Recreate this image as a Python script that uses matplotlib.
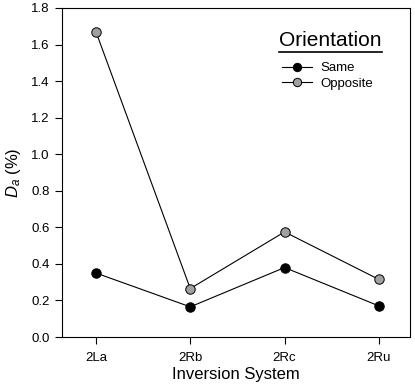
import matplotlib
matplotlib.use("Agg")
import matplotlib.pyplot as plt
from matplotlib.lines import Line2D

plt.rcParams['font.family'] = ['Liberation Sans', 'DejaVu Sans']
plt.rcParams['mathtext.fontset'] = 'custom'
plt.rcParams['mathtext.it'] = 'Liberation Sans:italic'
plt.rcParams['mathtext.rm'] = 'Liberation Sans'

categories = ["2La", "2Rb", "2Rc", "2Ru"]
same = [0.35, 0.165, 0.38, 0.17]
opposite = [1.67, 0.265, 0.575, 0.315]
yticks = [0.0, 0.2, 0.4, 0.6, 0.8, 1.0, 1.2, 1.4, 1.6, 1.8]

fig = plt.figure(figsize=(4.15, 3.88), dpi=100)
ax = fig.add_axes([62/415, 1-337/388, (410-62)/415, (337-8)/388])

x = list(range(len(categories)))
ax.plot(x, same, color='black', lw=0.8, marker='o', ms=6.8,
        mfc='black', mec='black', mew=0.7, label='Same', zorder=3)
ax.plot(x, opposite, color='black', lw=0.8, marker='o', ms=6.8,
        mfc='#a0a0a0', mec='black', mew=0.7, label='Opposite', zorder=3)

ax.set_xlim(-0.36, 3.33)
ax.set_ylim(0, 1.8)
ax.set_xticks(x)
ax.set_xticklabels(categories)
ax.set_yticks(yticks)
ax.set_yticklabels([f"{v:.1f}" for v in yticks])
ax.tick_params(direction='out', length=5, width=0.8, labelsize=9.5, pad=4)
ax.tick_params(axis='x', pad=6)
for s in ax.spines.values():
    s.set_linewidth(0.8)

ax.set_xlabel("Inversion System", fontsize=12, labelpad=2)
ax.set_ylabel(r"$D_a$ (%)", fontsize=12, labelpad=6)

h1 = Line2D([], [], color='black', lw=0.8, marker='o', ms=6, mfc='black', mec='black', mew=0.7)
h2 = Line2D([], [], color='black', lw=0.8, marker='o', ms=6, mfc='#a0a0a0', mec='black', mew=0.7)
leg = ax.legend([h1, h2], ["Same", "Opposite"], loc='upper left',
                bbox_to_anchor=(282/415, 1-62/388), bbox_transform=fig.transFigure,
                frameon=False, fontsize=9.5, handlelength=2.3, handletextpad=0.6,
                labelspacing=0.25, borderpad=0, borderaxespad=0)

fig.text(330/415, 1-40/388, "Orientation", fontsize=15, ha='center', va='center')
fig.add_artist(Line2D([279/415, 382/415], [1-52/388, 1-52/388], color='black', lw=1.2,
                      transform=fig.transFigure))

fig.savefig("out.png", dpi=100)
